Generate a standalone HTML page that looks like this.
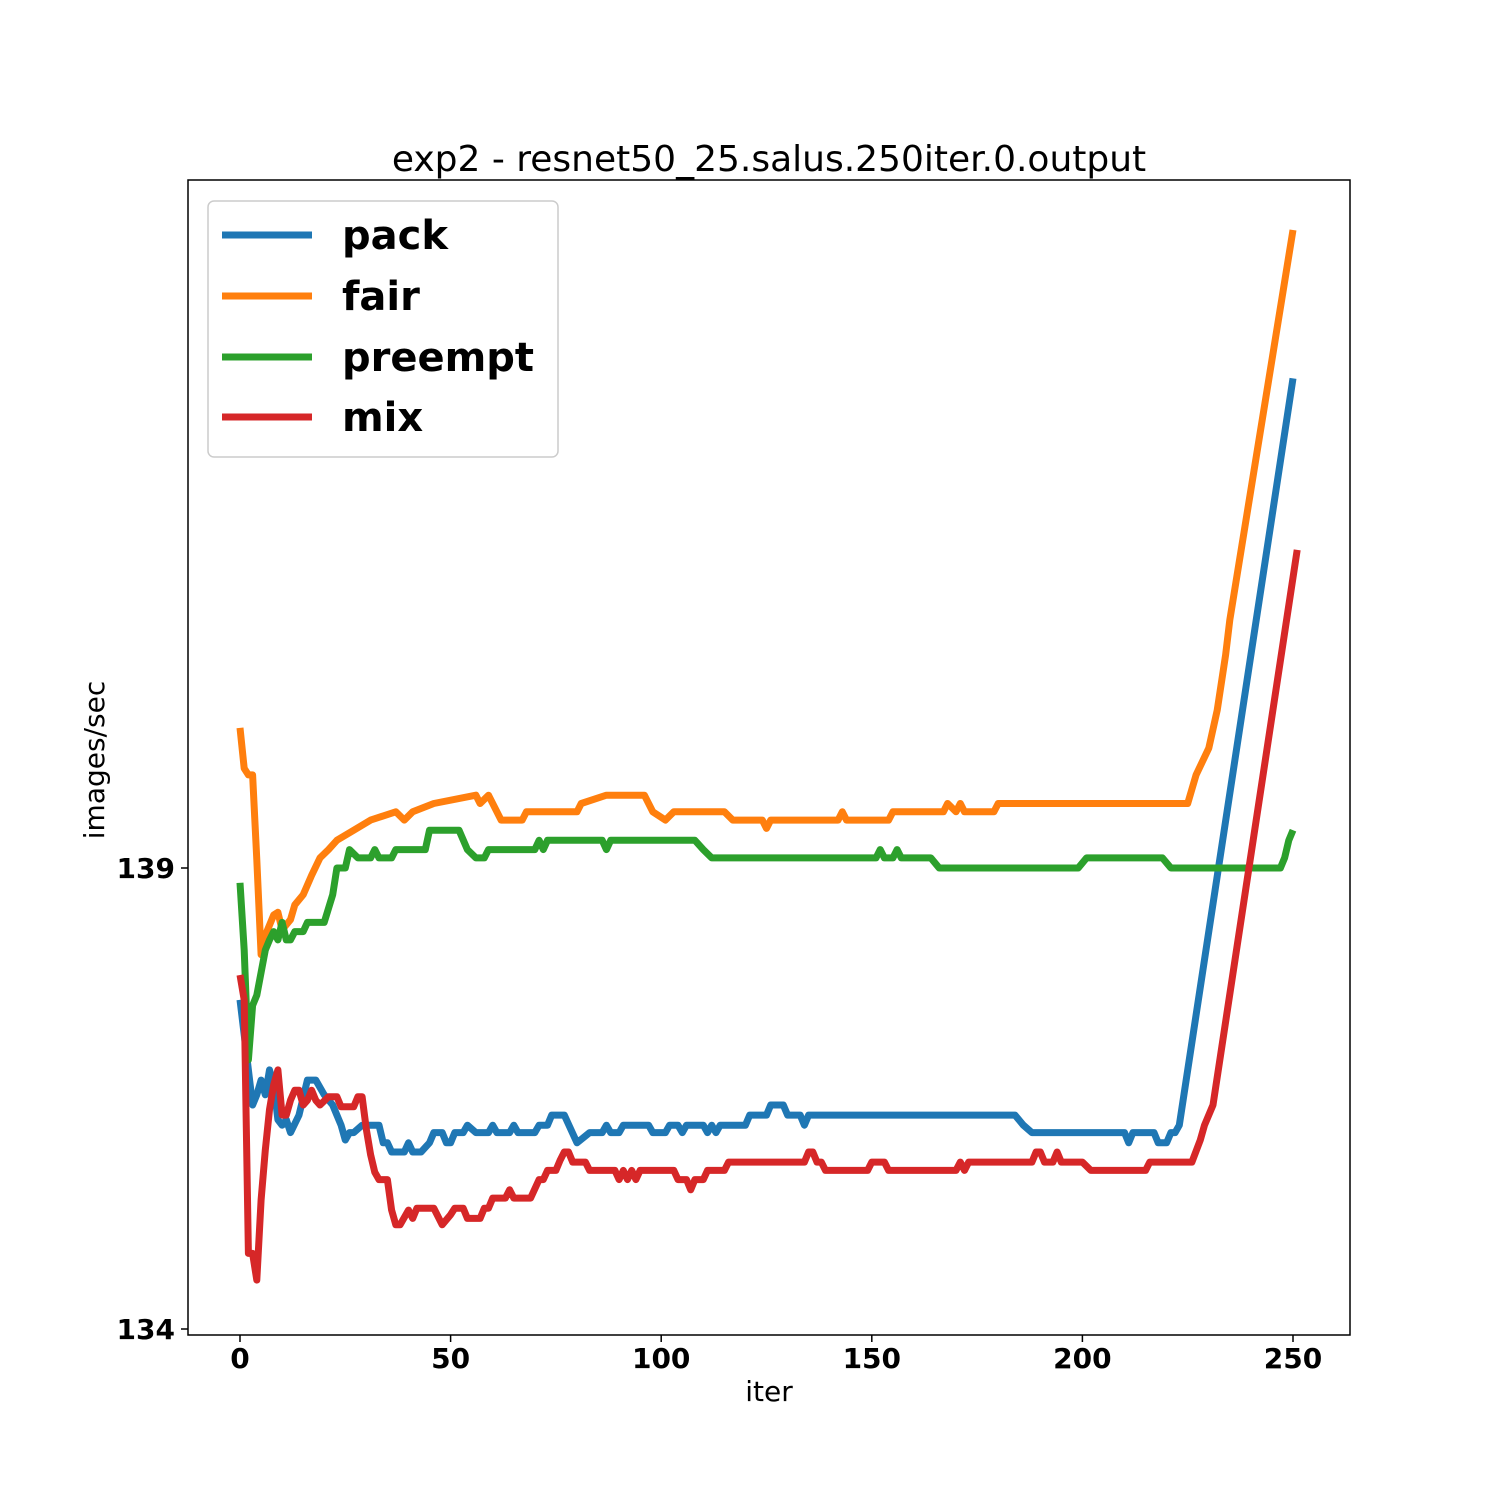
<!DOCTYPE html>
<html><head><meta charset="utf-8"><style>
body{margin:0;background:#fff}
svg text{font-family:"DejaVu Sans","Liberation Sans",sans-serif}
</style></head><body>
<svg id="chart" width="1500" height="1500" xmlns="http://www.w3.org/2000/svg">
<rect width="1500" height="1500" fill="#fff"/>
<text x="769" y="171" font-size="36" text-anchor="middle">exp2 - resnet50_25.salus.250iter.0.output</text>
<g id="plot"></g>
<rect x="188" y="180" width="1162" height="1155" fill="none" stroke="#000" stroke-width="1.5"/>
<g id="xticks"></g>
<g id="yticks"></g>
<text x="769" y="1401" font-size="28" text-anchor="middle">iter</text>
<text x="104" y="760" font-size="28" text-anchor="middle" transform="rotate(-90 104 760)">images/sec</text>
<g>
<rect x="208" y="201" width="350" height="256" rx="6" fill="#fff" fill-opacity="0.8" stroke="#ccc" stroke-width="1.5"/>
<g><line x1="222" y1="235" x2="312" y2="235" stroke="#1f77b4" stroke-width="7"/><text x="342" y="249" font-size="40" font-weight="bold">pack</text></g>
<g><line x1="222" y1="296" x2="312" y2="296" stroke="#ff7f0e" stroke-width="7"/><text x="342" y="310" font-size="40" font-weight="bold">fair</text></g>
<g><line x1="222" y1="357" x2="312" y2="357" stroke="#2ca02c" stroke-width="7"/><text x="342" y="371" font-size="40" font-weight="bold">preempt</text></g>
<g><line x1="222" y1="417" x2="312" y2="417" stroke="#d62728" stroke-width="7"/><text x="342" y="431" font-size="40" font-weight="bold">mix</text></g>
</g>
</svg>
<script>
const xTicks=[0,50,100,150,200,250];
const yTicks=[134,139];
const packX=[0,3,4,5,6,7,8,9,10,11,12,14,16,18,20,22,23,24,25,26,27,29,33,34,35,36,39,40,41,43,45,46,48,49,50,51,53,54,56,59,60,61,64,65,66,70,71,73,74,77,80,83,86,87,88,90,91,97,98,101,102,104,105,106,110,111,112,113,114,120,121,125,126,129,130,133,134,135,184,186,188,210,211,212,217,218,220,221,222,223,250];
const packY=[137.57,136.43,136.54,136.70,136.54,136.81,136.65,136.27,136.21,136.27,136.13,136.32,136.70,136.70,136.54,136.43,136.32,136.21,136.05,136.13,136.13,136.21,136.21,136.02,136.02,135.92,135.92,136.02,135.92,135.92,136.02,136.13,136.13,136.02,136.02,136.13,136.13,136.21,136.13,136.13,136.21,136.13,136.13,136.21,136.13,136.13,136.21,136.21,136.32,136.32,136.02,136.13,136.13,136.21,136.13,136.13,136.21,136.21,136.13,136.13,136.21,136.21,136.13,136.21,136.21,136.13,136.21,136.13,136.21,136.21,136.32,136.32,136.43,136.43,136.32,136.32,136.21,136.32,136.32,136.21,136.13,136.13,136.02,136.13,136.13,136.02,136.02,136.13,136.13,136.21,144.31];
const fairX=[0,1,2,3,4,5,6,8,9,10,12,13,15,17,19,21,23,27,31,37,39,41,46,56,57,59,62,67,68,80,81,87,96,98,101,103,115,117,124,125,126,142,143,144,154,155,167,168,170,171,172,179,180,225,227,230,232,234,235,250];
const fairY=[140.52,140.08,140.01,140.01,139.09,138.06,138.27,138.49,138.52,138.33,138.44,138.60,138.71,138.92,139.11,139.20,139.30,139.41,139.52,139.61,139.52,139.61,139.70,139.79,139.70,139.79,139.52,139.52,139.61,139.61,139.70,139.79,139.79,139.61,139.52,139.61,139.61,139.52,139.52,139.43,139.52,139.52,139.61,139.52,139.52,139.61,139.61,139.70,139.61,139.70,139.61,139.61,139.70,139.70,140.01,140.30,140.71,141.31,141.69,145.92];
const preX=[0,1,2,3,4,6,7,8,9,10,11,12,13,15,16,20,22,23,25,26,28,31,32,33,36,37,44,45,52,54,56,58,59,70,71,72,73,86,87,88,108,110,112,151,152,153,155,156,157,164,166,199,201,219,221,247,248,249,250];
const preY=[138.84,138.11,136.92,137.51,137.62,138.11,138.22,138.31,138.22,138.41,138.22,138.22,138.31,138.31,138.41,138.41,138.71,139.00,139.00,139.20,139.11,139.11,139.20,139.11,139.11,139.20,139.20,139.41,139.41,139.20,139.11,139.11,139.20,139.20,139.30,139.20,139.30,139.30,139.20,139.30,139.30,139.20,139.11,139.11,139.20,139.11,139.11,139.20,139.11,139.11,139.00,139.00,139.11,139.11,139.00,139.00,139.11,139.30,139.41];
const mixX=[0,1,2,3,4,5,6,7,8,9,10,11,12,13,14,15,16,17,18,19,21,23,24,27,28,29,30,31,32,33,35,36,37,38,40,41,42,46,48,50,51,53,54,57,58,59,60,63,64,65,69,71,72,73,75,76,77,78,79,82,83,89,90,91,92,93,94,95,103,104,106,107,108,110,111,115,116,134,135,136,137,138,139,149,150,153,154,170,171,172,173,188,189,190,191,193,194,195,200,202,215,216,226,228,229,231,251];
const mixY=[137.84,137.57,134.82,134.82,134.53,135.40,135.94,136.38,136.65,136.81,136.32,136.32,136.48,136.59,136.59,136.43,136.48,136.59,136.48,136.43,136.52,136.52,136.41,136.41,136.52,136.52,136.16,135.89,135.70,135.62,135.62,135.29,135.13,135.13,135.29,135.20,135.31,135.31,135.13,135.24,135.31,135.31,135.20,135.20,135.31,135.31,135.42,135.42,135.51,135.42,135.42,135.62,135.62,135.72,135.72,135.83,135.92,135.92,135.81,135.81,135.72,135.72,135.62,135.72,135.62,135.72,135.62,135.72,135.72,135.62,135.62,135.51,135.62,135.62,135.72,135.72,135.81,135.81,135.92,135.92,135.81,135.81,135.72,135.72,135.81,135.81,135.72,135.72,135.81,135.72,135.81,135.81,135.92,135.92,135.81,135.81,135.92,135.81,135.81,135.72,135.72,135.81,135.81,136.05,136.21,136.43,142.45];

const NS='http://www.w3.org/2000/svg';
function sx(v){return 240+(v-0)*(1293-240)/250;}
function sy(v){return 868-(v-139)*(1329-868)/5;}
const plot=document.getElementById('plot');
function series(xs,ys,color,name){
  const p=document.createElementNS(NS,'polyline');
  p.setAttribute('points',xs.map((x,i)=>sx(x).toFixed(1)+','+sy(ys[i]).toFixed(1)).join(' '));
  p.setAttribute('fill','none');p.setAttribute('stroke',color);
  p.setAttribute('stroke-width','7');p.setAttribute('stroke-linejoin','round');
  
  
  plot.appendChild(p);
}
series(packX,packY,'#1f77b4','series-pack');
series(fairX,fairY,'#ff7f0e','series-fair');
series(preX,preY,'#2ca02c','series-preempt');
series(mixX,mixY,'#d62728','series-mix');
const xg=document.getElementById('xticks');
xTicks.forEach(t=>{
  const l=document.createElementNS(NS,'line');
  l.setAttribute('x1',sx(t));l.setAttribute('x2',sx(t));l.setAttribute('y1',1335);l.setAttribute('y2',1342);l.setAttribute('stroke','#000');l.setAttribute('stroke-width','1.5');
  
  
  xg.appendChild(l);
  const tx=document.createElementNS(NS,'text');
  tx.setAttribute('x',sx(t));tx.setAttribute('y',1368);tx.setAttribute('font-size','28');tx.setAttribute('font-weight','bold');tx.setAttribute('text-anchor','middle');
  tx.textContent=t;
  
  
  xg.appendChild(tx);
});
const yg=document.getElementById('yticks');
yTicks.forEach(t=>{
  const l=document.createElementNS(NS,'line');
  l.setAttribute('x1',181);l.setAttribute('x2',188);l.setAttribute('y1',sy(t));l.setAttribute('y2',sy(t));l.setAttribute('stroke','#000');l.setAttribute('stroke-width','1.5');
  
  
  yg.appendChild(l);
  const tx=document.createElementNS(NS,'text');
  tx.setAttribute('x',175);tx.setAttribute('y',sy(t)+10);tx.setAttribute('font-size','28');tx.setAttribute('font-weight','bold');tx.setAttribute('text-anchor','end');
  tx.textContent=t;
  
  
  yg.appendChild(tx);
});
</script>
</body></html>
